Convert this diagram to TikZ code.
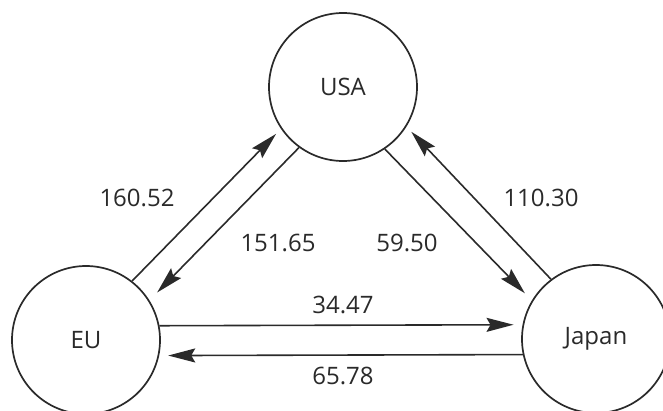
\documentclass[tikz,border=0pt]{standalone}
\usepackage{fontspec}
\setmainfont{Open Sans}
\usetikzlibrary{arrows.meta}
\definecolor{ink}{HTML}{2A2A2A}
\begin{document}
\begin{tikzpicture}[x=1pt,y=-1pt,
  country/.style={circle,draw=ink,line width=1.7pt,minimum size=148pt,inner sep=0pt,
    font=\fontsize{24}{28}\selectfont,text=ink},
  flow/.style={draw=ink,line width=1.6pt,-{Stealth[length=27pt,width=14pt,inset=4pt]}},
  val/.style={font=\fontsize{24}{28}\selectfont,text=ink,inner sep=0pt}]
\useasboundingbox[fill=white] (0,0) rectangle (663,410);
\node[country] (usa) at (343,87) {USA};
\node[country] (eu) at (86,340) {EU};
\node[country] (jp) at (596,339) {Japan};
% EU <-> USA
\draw[flow,shorten >=7pt] (eu.52) -- (usa.214);
\draw[flow,shorten >=11pt] (usa.234) -- (eu.32);
% USA <-> Japan
\draw[flow,shorten >=10pt] (usa.304) -- (jp.149);
\draw[flow,shorten >=7pt] (jp.127) -- (usa.328);
% EU <-> Japan
\draw[flow,shorten >=9pt] (eu.11) -- (jp.169);
\draw[flow,shorten >=9pt] (jp.192.5) -- (eu.-12.5);
% labels
\node[val] (l1) at (137,198) {160.52};
\node[val] (l2) at (278,243) {151.65};
\node[val] (l3) at (407,243) {59.50};
\node[val] (l4) at (541,198) {110.30};
\node[val] (l5) at (343,305) {34.47};
\node[val] (l6) at (343,376) {65.78};
\end{tikzpicture}
\end{document}
